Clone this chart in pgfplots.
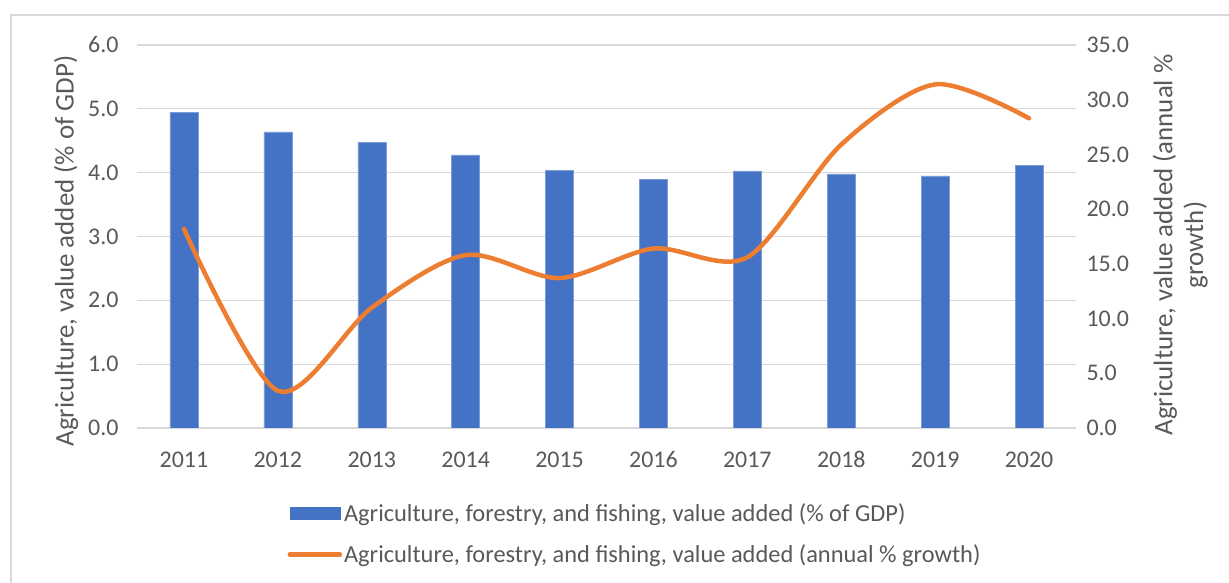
\documentclass[border=0pt]{standalone}
\usepackage{fontspec}
\setmainfont{Carlito}
\usepackage{pgfplots}
\pgfplotsset{compat=1.18}
\definecolor{barblue}{HTML}{4472C4}
\definecolor{lineorange}{HTML}{ED7D31}
\definecolor{txtgray}{HTML}{595959}
\definecolor{gridgray}{HTML}{D9D9D9}
\begin{document}
\begin{tikzpicture}
\useasboundingbox (0bp,0bp) rectangle (1229bp,583bp);
\fill[white] (0bp,0bp) rectangle (1229bp,583bp);
\draw[gridgray, line width=1.5bp] (11bp,-5bp) -- (11bp,568bp) -- (1240bp,568bp);
\pgfplotsset{every axis/.append style={
  at={(137bp,155bp)}, anchor=south west, scale only axis,
  width=939bp, height=383bp,
  xmin=-0.5, xmax=9.5,
  axis line style={draw=none},
  major tick length=0pt,
  tick label style={font=\fontsize{24}{28}\selectfont, text=txtgray},
  label style={font=\fontsize{27}{31}\selectfont, text=txtgray},
  /pgf/number format/assume math mode=true,
  /pgf/number format/.cd, fixed, fixed zerofill, precision=1,
}}
\begin{axis}[
  ymin=0, ymax=6, ytick={0,1,2,3,4,5,6},
  xtick={0,...,9},
  xticklabels={2011,2012,2013,2014,2015,2016,2017,2018,2019,2020},
  xticklabel style={anchor=base, yshift=-40bp},
  yticklabel style={xshift=-15bp},
  ymajorgrids, grid style={gridgray, line width=1.2bp},
  ylabel={Agriculture, value added (\% of GDP)},
  ylabel style={at={(axis description cs:-0.0756,0.462)}, anchor=center},
]
\addplot[ybar, bar width=28bp, fill=barblue, draw=barblue!70!white, line width=0.5bp]
  coordinates {(0,4.95) (1,4.64) (2,4.48) (3,4.28) (4,4.04) (5,3.90) (6,4.03) (7,3.98) (8,3.95) (9,4.12)};
\end{axis}
\begin{axis}[
  ymin=0, ymax=35, ytick={0,5,...,35},
  axis y line*=right, axis x line=none,
  yticklabel style={xshift=7bp, anchor=west},
  ylabel={Agriculture, value added (annual \%\\growth)},
  ylabel style={at={(axis description cs:1.111,0.478)}, anchor=center, align=center},
  legend style={at={(0.157,-0.186)}, anchor=north west, draw=none, fill=none,
    font=\fontsize{24.5}{28}\selectfont, text=txtgray, row sep=18bp, cells={anchor=west}},
]
\addlegendimage{legend image code/.code={\fill[barblue] (0bp,-6bp) rectangle (50bp,6bp);}}
\addlegendentry{Agriculture, forestry, and fishing, value added (\% of GDP)}
\addplot[lineorange, line width=4.5bp, line cap=round, smooth, tension=0.5,
  legend image code/.code={\draw[lineorange, line width=4.5bp, line cap=round] (0bp,0bp) -- (50bp,0bp);}]
  coordinates {(0,18.2) (1,3.4) (2,11.0) (3,15.8) (4,13.7) (5,16.4) (6,15.6) (7,25.9) (8,31.4) (9,28.3)};
\addlegendentry{Agriculture, forestry, and fishing, value added (annual \% growth)}
\end{axis}
\end{tikzpicture}
\end{document}
